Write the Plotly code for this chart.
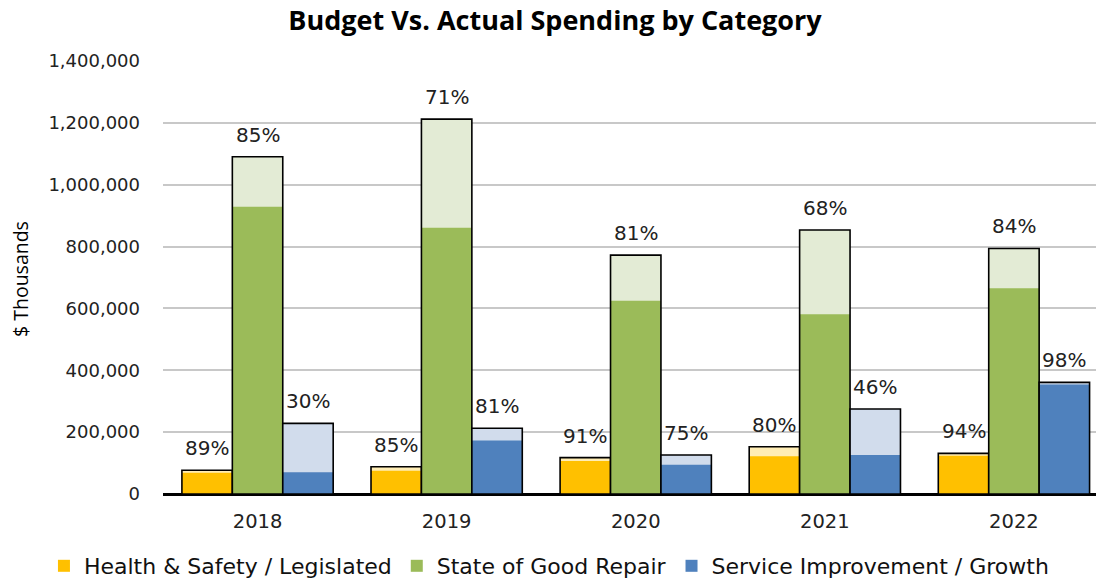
import plotly.graph_objects as go

years = ["2018", "2019", "2020", "2021", "2022"]
categories = ["Health & Safety / Legislated", "State of Good Repair", "Service Improvement / Growth"]

budget_hs = [77000, 88000, 117500, 153000, 131500]
actual_hs = [69000, 75000, 107000, 122000, 124000]
pct_hs = ["89%", "85%", "91%", "80%", "94%"]

budget_sgr = [1090500, 1212000, 772500, 853500, 794000]
actual_sgr = [929000, 861000, 625000, 581000, 665000]
pct_sgr = ["85%", "71%", "81%", "68%", "84%"]

budget_si = [228500, 212500, 126000, 275000, 361000]
actual_si = [70000, 173000, 94500, 126000, 354000]
pct_si = ["30%", "81%", "75%", "46%", "98%"]

y_ticks = [0, 200000, 400000, 600000, 800000, 1000000, 1200000, 1400000]

solid = ["#FFC000", "#9BBB59", "#4F81BD"]
light = ["#FFEDB5", "#E3EBD5", "#D1DCEC"]

budgets = [budget_hs, budget_sgr, budget_si]
actuals = [actual_hs, actual_sgr, actual_si]
pcts = [pct_hs, pct_sgr, pct_si]

fig = go.Figure()
for k in range(3):
    fig.add_trace(go.Bar(x=years, y=budgets[k], offsetgroup=str(k), marker=dict(color=light[k], line=dict(width=0)),
                         showlegend=False, hoverinfo="skip"))
    fig.add_trace(go.Bar(x=years, y=actuals[k], offsetgroup=str(k), name=categories[k],
                         marker=dict(color=solid[k], line=dict(width=0))))
    fig.add_trace(go.Bar(x=years, y=budgets[k], offsetgroup=str(k), marker=dict(color="rgba(0,0,0,0)", line=dict(width=1.6, color="#000000")),
                         showlegend=False, hoverinfo="skip"))

bar_px = 50.4
for k in range(3):
    for i in range(len(years)):
        fig.add_annotation(x=i, y=budgets[k][i], xref="x", yref="y", text=pcts[k][i], showarrow=False,
                           xshift=(k - 1) * bar_px, yshift=22, yanchor="middle",
                           font=dict(family="DejaVu Sans", size=20, color="#222222"))

# y-axis title
fig.add_annotation(text="$ Thousands", xref="paper", yref="paper", x=-143 / 933, y=(494 - 279) / 433,
                   xanchor="center", yanchor="middle", textangle=-90, showarrow=False,
                   font=dict(family="Open Sans", size=19.5, color="#000000"))

fig.update_layout(
    barmode="group",
    bargap=0.2,
    width=1096, height=578,
    margin=dict(l=163, r=0, t=61, b=84, autoexpand=False),
    paper_bgcolor="white", plot_bgcolor="white",
    title=dict(text="<b>Budget Vs. Actual Spending by Category</b>", x=555 / 1096, xanchor="center",
               y=1 - 21 / 578, yanchor="middle", font=dict(family="Open Sans", size=27, color="#000000")),
    legend=dict(orientation="h", xref="paper", yref="paper", x=-0.1276, xanchor="left",
                y=-72 / 433, yanchor="middle", font=dict(family="DejaVu Sans", size=22, color="#111111"),
                traceorder="normal"),
    font=dict(family="DejaVu Sans"),
)
fig.update_xaxes(type="category", range=[-0.5, 4.434], showline=True, linecolor="#000000", linewidth=2,
                 tickfont=dict(family="DejaVu Sans", size=19.5, color="#222222"), ticks="", showgrid=False,
                 ticklabelstandoff=9)
fig.update_yaxes(range=[0, 1400000], tickvals=y_ticks, tickformat=",", showgrid=True, gridcolor="#C8C8C8",
                 gridwidth=1.5, zeroline=True, zerolinecolor="#000000", zerolinewidth=2,
                 tickfont=dict(family="DejaVu Sans", size=18, color="#222222"), ticklabelstandoff=22)

fig.write_html("out.html")
